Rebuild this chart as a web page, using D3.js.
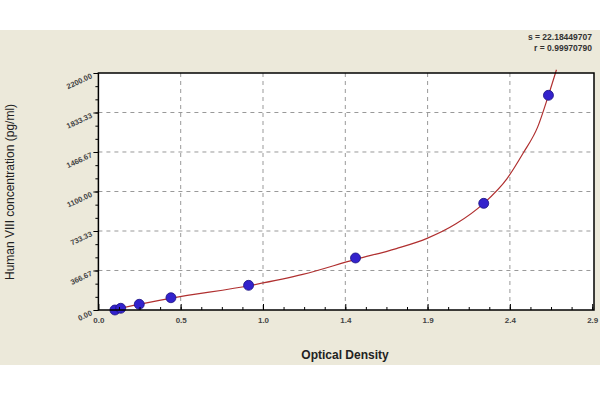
<!DOCTYPE html>
<html><head><meta charset="utf-8">
<script src="https://cdn.jsdelivr.net/npm/d3@7"></script>
<style>body{margin:0;background:#fff}</style></head>
<body><svg id="c" width="600" height="400"></svg>
<script>
const xTicks=[0,0.4833,0.9667,1.45,1.9333,2.4167,2.9];
const xTickLabels=["0.0","0.5","1.0","1.4","1.9","2.4","2.9"];
const yTicks=[0,366.67,733.33,1100,1466.67,1833.33,2200];
const yTickLabels=["0.00","366.67","733.33","1100.00","1466.67","1833.33","2200.00"];
const pointsOD=[0.097,0.131,0.24,0.426,0.882,1.51,2.263,2.643];
const pointsConc=[0,16,53,114,229,483,990,1993];
const curveOD=[0.085,0.2,0.43,0.9,1.2,1.51,1.75,1.93,2.1,2.263,2.4,2.494,2.58,2.643,2.69];
const curveConc=[0,40,110,230,330,470,570,665,800,990,1220,1455,1700,1993,2230];
const statLines=["s = 22.18449707","r = 0.99970790"];

const svg=d3.select("#c");
svg.append("rect").attr("width",600).attr("height",400).attr("fill","#fff");
svg.append("rect").attr("y",30).attr("width",600).attr("height",335).attr("fill","#ECE9DA");
const L=98.4,R=594,T=73,B=310;
const x=d3.scaleLinear().domain([0,2.9]).range([L,L+6*82.3]);
const y=d3.scaleLinear().domain([0,2200]).range([B,T]);
svg.append("rect").attr("x",L).attr("y",T).attr("width",R-L).attr("height",B-T).attr("fill","#fff");
const g=svg.append("g");
g.selectAll(".gx").data(xTicks.slice(1,-1)).join("line").attr("x1",d=>x(d)).attr("x2",d=>x(d)).attr("y1",T).attr("y2",B).attr("stroke","#999").attr("stroke-dasharray","4,4");
g.selectAll(".gy").data(yTicks.slice(1,-1)).join("line").attr("x1",L).attr("x2",R).attr("y1",d=>y(d)).attr("y2",d=>y(d)).attr("stroke","#999").attr("stroke-dasharray","4,4");
svg.append("clipPath").attr("id","cl").append("rect").attr("x",L).attr("y",T-6).attr("width",R-L).attr("height",B-T+6);
const line=d3.line().x(d=>x(d[0])).y(d=>y(d[1])).curve(d3.curveMonotoneX);
svg.append("path").attr("d",line(curveOD.map((v,i)=>[v,curveConc[i]]))).attr("fill","none").attr("stroke","#b03030").attr("stroke-width",1.2).attr("clip-path","url(#cl)");
svg.selectAll(".pt").data(pointsOD.map((v,i)=>[v,pointsConc[i]])).join("circle").attr("cx",d=>x(d[0])).attr("cy",d=>y(d[1])).attr("r",5).attr("fill","#3322cc").attr("stroke","#1a1280").attr("stroke-width",0.8);
svg.append("rect").attr("x",L).attr("y",T).attr("width",R-L).attr("height",B-T).attr("fill","none").attr("stroke","#000").attr("stroke-width",1.5);
const xa=svg.append("g").attr("transform",`translate(0,${B})`).call(d3.axisBottom(x).tickValues(xTicks).tickFormat((d,i)=>xTickLabels[i]).tickSize(-6));
svg.append("g").attr("transform",`translate(0,${B})`).call(d3.axisBottom(x).tickValues(d3.range(0,24).map(i=>i*0.4833/4+0.4833/4).filter(v=>v<2.9)).tickFormat("").tickSize(-3));
const ya=svg.append("g").attr("transform",`translate(${L},0)`).call(d3.axisLeft(y).tickValues(yTicks).tickFormat((d,i)=>yTickLabels[i]).tickSize(5));
svg.append("g").attr("transform",`translate(${L},0)`).call(d3.axisLeft(y).tickValues(d3.range(0,18).map(i=>i*366.67/3)).tickFormat("").tickSize(3));
svg.selectAll(".domain").remove();
svg.selectAll(".tick line").attr("stroke","#000");
xa.selectAll("text").attr("font-family","Arial,Liberation Sans").attr("font-size",8).attr("font-weight","bold").attr("fill","#444").attr("dy","1.2em");
ya.selectAll("text").attr("font-family","Arial,Liberation Sans").attr("font-size",7.5).attr("font-weight","bold").attr("fill","#444").attr("text-anchor","end").attr("transform","rotate(-25)").attr("x",-7).attr("dy","0.2em");
svg.append("text").attr("x",345).attr("y",359).attr("text-anchor","middle").attr("font-family","Arial,Liberation Sans").attr("font-size",12).attr("font-weight","bold").attr("fill","#222").text("Optical Density");
svg.append("text").attr("transform","translate(14,192) rotate(-90)").attr("text-anchor","middle").attr("font-family","Arial,Liberation Sans").attr("font-size",12).attr("fill","#222").text("Human VIII concentration (pg/ml)");
svg.selectAll(".st").data(statLines).join("text").attr("x",592).attr("y",(d,i)=>40+i*11).attr("text-anchor","end").attr("font-family","Arial,Liberation Sans").attr("font-size",8.5).attr("font-weight","bold").attr("fill","#333").text(d=>d);
</script></body></html>
